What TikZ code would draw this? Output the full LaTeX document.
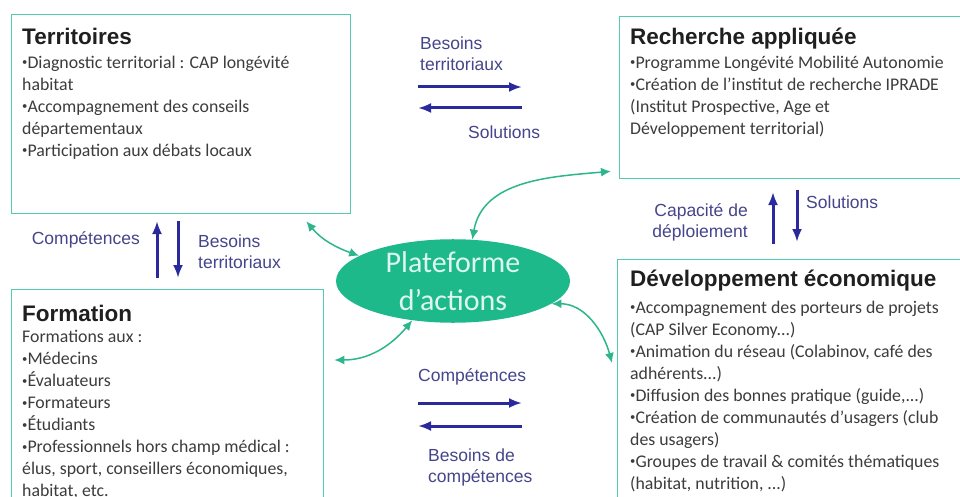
\documentclass[tikz,border=0pt]{standalone}
\usepackage{fontspec}
\usepackage{graphicx}
\setmainfont{Carlito}
\newfontfamily\headfont{Liberation Sans}
\usetikzlibrary{shapes.geometric,arrows.meta}

\definecolor{boxline}{HTML}{55CBAE}
\definecolor{platgreen}{HTML}{1DB98A}
\definecolor{plattext}{HTML}{DDF6EE}
\definecolor{linkgreen}{HTML}{2DB68C}
\definecolor{flowblue}{HTML}{2A2A9C}
\definecolor{flowtext}{HTML}{45458C}
\definecolor{bodytext}{HTML}{3C3C3C}

\newcommand{\pt}{\raisebox{.28ex}{\scalebox{.6}{•}}}

\tikzset{
  panel/.style={draw=boxline, line width=1.3pt, anchor=north west, inner sep=0pt},
  heading/.style={font=\headfont\bfseries\fontsize{22.5}{26}\selectfont, anchor=base west, inner sep=0pt, text=black!88},
  items/.style={font=\fontsize{17.8}{22}\selectfont, align=left, anchor=north west, inner sep=0pt, text=bodytext},
  flow/.style={-{Latex[length=13pt,width=10pt]}, line width=3pt, flowblue},
  flowlabel/.style={font=\headfont\fontsize{17.5}{21}\selectfont, text=flowtext, inner sep=0pt},
  link/.style={{Latex[length=10pt,width=9pt]}-{Latex[length=10pt,width=9pt]}, line width=1.5pt, linkgreen},
}

\begin{document}
\begin{tikzpicture}[x=1pt,y=-1pt]
    \useasboundingbox (0,0) rectangle (960,497);
    \clip (0,0) rectangle (960,497);
    \fill[white] (0,0) rectangle (960,497);

    % the four boxes
    \node[panel, minimum width=339pt, minimum height=199pt] (terr) at (11,14) {};
    \node[panel, minimum width=350pt, minimum height=162pt] (rech) at (619,16) {};
    \node[panel, minimum width=312pt, minimum height=230pt] (form) at (11,289) {};
    \node[panel, minimum width=352pt, minimum height=260pt] (dev) at (617,259) {};

    \node[heading] (terrT) at (22,45) {Territoires};
    \node[items] (terrB) at (22,52.6) {\strut\pt Diagnostic territorial : CAP longévité\\habitat\\\pt Accompagnement des conseils\\départementaux\\\pt Participation aux débats locaux};

    \node[heading] (rechT) at (630,45) {Recherche appliquée};
    \node[items] (rechB) at (630,52.6) {\strut\pt Programme Longévité Mobilité Autonomie\\\pt Création de l’institut de recherche IPRADE\\(Institut Prospective, Age et\\Développement territorial)};

    \node[heading] (formT) at (22,321) {Formation};
    \node[items] (formB) at (22,327) {\strut Formations aux :\\\pt Médecins\\\pt Évaluateurs\\\pt Formateurs\\\pt Étudiants\\\pt Professionnels hors champ médical :\\élus, sport, conseillers économiques,\\habitat, etc.};

    \node[heading] (devT) at (630,286) {Développement économique};
    \node[items] (devB) at (630,297.6) {\strut\pt Accompagnement des porteurs de projets\\(CAP Silver Economy...)\\\pt Animation du réseau (Colabinov, café des\\adhérents...)\\\pt Diffusion des bonnes pratique (guide,...)\\\pt Création de communautés d’usagers (club\\des usagers)\\\pt Groupes de travail \& comités thématiques\\(habitat, nutrition, ...)};

    % centre
    \node[ellipse, fill=platgreen, minimum width=234pt, minimum height=82pt, inner sep=0pt,
          text=plattext, align=center, font=\fontsize{30}{38}\selectfont] (plat) at (453,281) {Plateforme\\d’actions};

    \draw[link] ([xshift=-45pt,yshift=-7pt]terr.south east) to[out=-50,in=160] (plat.165);
    \draw[link] ([xshift=10pt,yshift=-71pt]form.north east) to[out=0,in=-130] (plat.224);
    \draw[link] (plat.65) to[out=80,in=185] ([xshift=-8pt,yshift=8pt]rech.south west);
    \draw[link] (plat.-13) to[out=0,in=105] ([xshift=-5pt,yshift=-104pt]dev.north west);

    % exchanges
    \coordinate (t1) at (418,87);  \coordinate (t2) at (522,87);
    \coordinate (t3) at (522,108); \coordinate (t4) at (418,108);
    \coordinate (b1) at (418,403); \coordinate (b2) at (522,403);
    \coordinate (b3) at (522,426); \coordinate (b4) at (418,426);
    \coordinate (l1) at (157,278); \coordinate (l2) at (157,221);
    \coordinate (l3) at (178,221); \coordinate (l4) at (178,278);
    \coordinate (r1) at (773,244); \coordinate (r2) at (773,192);
    \coordinate (r3) at (797,190); \coordinate (r4) at (797,242);

    \draw[flow] (t1) -- (t2);
    \draw[flow] (t3) -- (t4);
    \draw[flow] (b1) -- (b2);
    \draw[flow] (b3) -- (b4);
    \draw[flow] (l1) -- (l2);
    \draw[flow] (l3) -- (l4);
    \draw[flow] (r1) -- (r2);
    \draw[flow] (r3) -- (r4);

    \node[flowlabel, align=left, anchor=west] (topNeeds) at (420,54) {Besoins\\territoriaux};
    \node[flowlabel, anchor=west] (topSol) at (468,132) {Solutions};
    \node[flowlabel, anchor=west] (botComp) at (418,377) {Compétences};
    \node[flowlabel, align=left, anchor=west] (botNeeds) at (428,467) {Besoins de\\compétences};
    \node[flowlabel, anchor=east] (leftComp) at (140,240) {Compétences};
    \node[flowlabel, align=left, anchor=west] (leftNeeds) at (198,252) {Besoins\\territoriaux};
    \node[flowlabel, align=right, anchor=east] (rightCap) at (748,222) {Capacité de\\déploiement};
    \node[flowlabel, anchor=west] (rightSol) at (806,202) {Solutions};
\end{tikzpicture}
\end{document}
